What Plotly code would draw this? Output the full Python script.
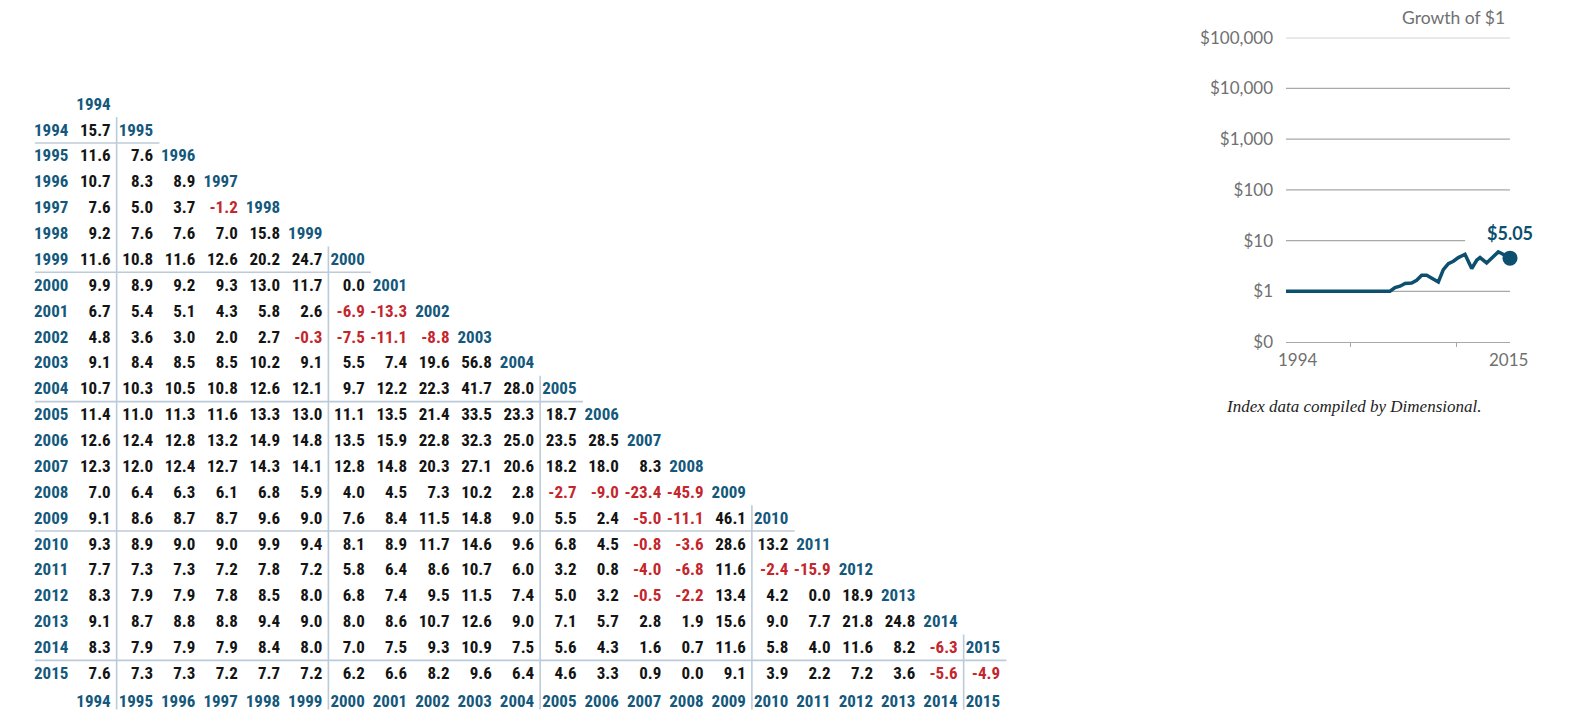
import math
import plotly.graph_objects as go

# ---------------- data ----------------
years = list(range(1994, 2016))

row_1994 = [15.7]
row_1995 = [11.6, 7.6]
row_1996 = [10.7, 8.3, 8.9]
row_1997 = [7.6, 5.0, 3.7, -1.2]
row_1998 = [9.2, 7.6, 7.6, 7.0, 15.8]
row_1999 = [11.6, 10.8, 11.6, 12.6, 20.2, 24.7]
row_2000 = [9.9, 8.9, 9.2, 9.3, 13.0, 11.7, 0.0]
row_2001 = [6.7, 5.4, 5.1, 4.3, 5.8, 2.6, -6.9, -13.3]
row_2002 = [4.8, 3.6, 3.0, 2.0, 2.7, -0.3, -7.5, -11.1, -8.8]
row_2003 = [9.1, 8.4, 8.5, 8.5, 10.2, 9.1, 5.5, 7.4, 19.6, 56.8]
row_2004 = [10.7, 10.3, 10.5, 10.8, 12.6, 12.1, 9.7, 12.2, 22.3, 41.7, 28.0]
row_2005 = [11.4, 11.0, 11.3, 11.6, 13.3, 13.0, 11.1, 13.5, 21.4, 33.5, 23.3, 18.7]
row_2006 = [12.6, 12.4, 12.8, 13.2, 14.9, 14.8, 13.5, 15.9, 22.8, 32.3, 25.0, 23.5, 28.5]
row_2007 = [12.3, 12.0, 12.4, 12.7, 14.3, 14.1, 12.8, 14.8, 20.3, 27.1, 20.6, 18.2, 18.0, 8.3]
row_2008 = [7.0, 6.4, 6.3, 6.1, 6.8, 5.9, 4.0, 4.5, 7.3, 10.2, 2.8, -2.7, -9.0, -23.4, -45.9]
row_2009 = [9.1, 8.6, 8.7, 8.7, 9.6, 9.0, 7.6, 8.4, 11.5, 14.8, 9.0, 5.5, 2.4, -5.0, -11.1, 46.1]
row_2010 = [9.3, 8.9, 9.0, 9.0, 9.9, 9.4, 8.1, 8.9, 11.7, 14.6, 9.6, 6.8, 4.5, -0.8, -3.6, 28.6, 13.2]
row_2011 = [7.7, 7.3, 7.3, 7.2, 7.8, 7.2, 5.8, 6.4, 8.6, 10.7, 6.0, 3.2, 0.8, -4.0, -6.8, 11.6, -2.4, -15.9]
row_2012 = [8.3, 7.9, 7.9, 7.8, 8.5, 8.0, 6.8, 7.4, 9.5, 11.5, 7.4, 5.0, 3.2, -0.5, -2.2, 13.4, 4.2, 0.0, 18.9]
row_2013 = [9.1, 8.7, 8.8, 8.8, 9.4, 9.0, 8.0, 8.6, 10.7, 12.6, 9.0, 7.1, 5.7, 2.8, 1.9, 15.6, 9.0, 7.7, 21.8, 24.8]
row_2014 = [8.3, 7.9, 7.9, 7.9, 8.4, 8.0, 7.0, 7.5, 9.3, 10.9, 7.5, 5.6, 4.3, 1.6, 0.7, 11.6, 5.8, 4.0, 11.6, 8.2, -6.3]
row_2015 = [7.6, 7.3, 7.3, 7.2, 7.7, 7.2, 6.2, 6.6, 8.2, 9.6, 6.4, 4.6, 3.3, 0.9, 0.0, 9.1, 3.9, 2.2, 7.2, 3.6, -5.6, -4.9]

rows = [row_1994, row_1995, row_1996, row_1997, row_1998, row_1999, row_2000,
        row_2001, row_2002, row_2003, row_2004, row_2005, row_2006, row_2007,
        row_2008, row_2009, row_2010, row_2011, row_2012, row_2013, row_2014,
        row_2015]

# Growth of $1
growth_x = [1994, 1995, 1996, 1997, 1998, 1999, 2000, 2001, 2002, 2003, 2003.75,
            2004.22, 2004.69, 2005.16, 2005.78, 2006.25, 2006.72, 2007.19, 2007.81,
            2008.28, 2008.75, 2009.22, 2009.69, 2010.16, 2010.78, 2011.41, 2011.88,
            2012.19, 2012.81, 2013.43, 2013.90, 2014.22, 2015]
growth_y = [1.0, 1.0, 1.0, 1.0, 1.0, 1.0, 1.0, 1.0, 1.0, 1.0, 1.0,
            1.18, 1.26, 1.42, 1.46, 1.65, 2.07, 2.07, 1.78,
            1.53, 2.68, 3.52, 3.91, 4.62, 5.37, 2.81, 4.09,
            4.62, 3.62, 4.75, 5.97, 5.55, 4.5]
growth_label = "$5.05"
grid_vals = [0.1, 1, 10, 100, 1000, 10000, 100000]
grid_text = ["$0", "$1", "$10", "$100", "$1,000", "$10,000", "$100,000"]
axis_ticks = [2000, 2010]

# ---------------- styles ----------------
BLUE = "#14587c"
RED = "#c3262c"
BLACK = "#141414"
RULE = "#bccbd9"
GRAY = "#707070"
GRID = "#a8a8a8"
LINE = "#0c4f6e"
TFONT = "Liberation Sans Narrow, Roboto Condensed, DejaVu Sans Condensed, Arial Narrow, sans-serif"
TSIZE = 17

fig = go.Figure()

# values
pos_x, pos_y, pos_t = [], [], []
neg_x, neg_y, neg_t = [], [], []
for r, row in enumerate(rows):
    for c, v in enumerate(row):
        if v < 0:
            neg_x.append(c); neg_y.append(r); neg_t.append(f"{v:.1f}")
        else:
            pos_x.append(c); pos_y.append(r); pos_t.append(f"{v:.1f}")

fig.add_trace(go.Scatter(x=pos_x, y=pos_y, text=pos_t, mode="text",
                         textposition="middle left",
                         textfont=dict(family=TFONT, size=TSIZE, color=BLACK, weight="bold"),
                         hoverinfo="skip", showlegend=False))
fig.add_trace(go.Scatter(x=neg_x, y=neg_y, text=neg_t, mode="text",
                         textposition="middle left",
                         textfont=dict(family=TFONT, size=TSIZE, color=RED, weight="bold"),
                         hoverinfo="skip", showlegend=False))

# labels: row labels, diagonal headers, bottom labels
lab_x, lab_y, lab_t = [], [], []
n = len(years)
for i, yr in enumerate(years):
    lab_x.append(-1); lab_y.append(i); lab_t.append(str(yr))
    lab_x.append(i); lab_y.append(i - 1); lab_t.append(str(yr))
    lab_x.append(i); lab_y.append(n + 0.1); lab_t.append(str(yr))
fig.add_trace(go.Scatter(x=lab_x, y=lab_y, text=lab_t, mode="text",
                         textposition="middle left",
                         textfont=dict(family=TFONT, size=TSIZE, color=BLUE, weight="bold"),
                         hoverinfo="skip", showlegend=False))

# separator rules every 5 years
shapes = []
for k in range(0, n - 1, 5):
    shapes.append(dict(type="line", xref="x", yref="y", x0=k + 0.14, x1=k + 0.14,
                       y0=k - 0.55, y1=n + 0.35, line=dict(color=RULE, width=1.6)))
    shapes.append(dict(type="line", xref="x", yref="y", x0=-1.79, x1=k + 1.15,
                       y0=k + 0.45, y1=k + 0.45, line=dict(color=RULE, width=1.6)))

# growth chart gridlines (data values on log axis)
for v in grid_vals[1:]:
    x_end = 2010.8 if v == 10 else 2015
    shapes.append(dict(type="line", xref="x2", yref="y2", x0=1994, x1=x_end,
                       y0=v, y1=v, line=dict(color=GRID, width=1.3), layer="below"))

fig.add_trace(go.Scatter(x=growth_x, y=growth_y, mode="lines", xaxis="x2", yaxis="y2",
                         line=dict(color=LINE, width=3.5), hoverinfo="skip",
                         cliponaxis=False, showlegend=False))
fig.add_trace(go.Scatter(x=[growth_x[-1]], y=[growth_y[-1]], mode="markers",
                         xaxis="x2", yaxis="y2", cliponaxis=False,
                         marker=dict(color=LINE, size=15), hoverinfo="skip",
                         showlegend=False))

W, H = 1579, 716
LFONT = "Lato"
annotations = [
    dict(text=growth_label, xref="x2", yref="y2", x=2015, y=math.log10(14.4),
         showarrow=False, font=dict(family=LFONT, size=18, color=LINE, weight="bold"),
         xanchor="center", yanchor="middle"),
    dict(text="Growth of $1", xref="paper", yref="paper", x=1507 / W, y=1 - 17.3 / H,
         showarrow=False, font=dict(family=LFONT, size=17.5, color=GRAY),
         xanchor="right", yanchor="middle"),
    dict(text="1994", xref="x2", yref="paper", x=1994, y=1 - 359 / H, xshift=11.5,
         showarrow=False, font=dict(family=LFONT, size=17, color=GRAY),
         xanchor="center", yanchor="middle"),
    dict(text="2015", xref="x2", yref="paper", x=2015, y=1 - 359 / H, xshift=-1.5,
         showarrow=False, font=dict(family=LFONT, size=17, color=GRAY),
         xanchor="center", yanchor="middle"),
    dict(text="<i>Index data compiled by Dimensional.</i>", xref="paper", yref="paper",
         x=1353.5 / W, y=1 - 406.7 / H, showarrow=False,
         font=dict(family="Liberation Serif, DejaVu Serif, serif", size=17, color="#222222"),
         xanchor="center", yanchor="middle"),
]

fig.update_layout(
    width=W, height=H, margin=dict(l=0, r=0, t=0, b=0, autoexpand=False),
    paper_bgcolor="white", plot_bgcolor="rgba(0,0,0,0)",
    shapes=shapes, annotations=annotations,
    xaxis=dict(domain=[0, 1], range=[-2.614, 34.67], visible=False, fixedrange=True),
    yaxis=dict(domain=[0, 1], range=[22.60, -5.075], visible=False, fixedrange=True),
    xaxis2=dict(domain=[1286 / W, 1510 / W], range=[1994, 2015], anchor="y2",
                showgrid=False, zeroline=False, showline=True, linecolor=GRID, linewidth=1.3,
                ticks="outside", ticklen=4, tickcolor=GRID, tickvals=axis_ticks,
                showticklabels=False, fixedrange=True),
    yaxis2=dict(domain=[1 - 342 / H, 1 - 37.7 / H], type="log", range=[-1, 5], anchor="x2",
                showgrid=False, zeroline=False, showline=False, ticks="",
                tickvals=grid_vals, ticktext=grid_text, ticklabelstandoff=12,
                tickfont=dict(family=LFONT, size=17, color=GRAY), fixedrange=True),
)

fig.write_html("out.html", config={"displayModeBar": False},
               post_script="document.body.style.margin='0';document.body.style.overflow='hidden';")
